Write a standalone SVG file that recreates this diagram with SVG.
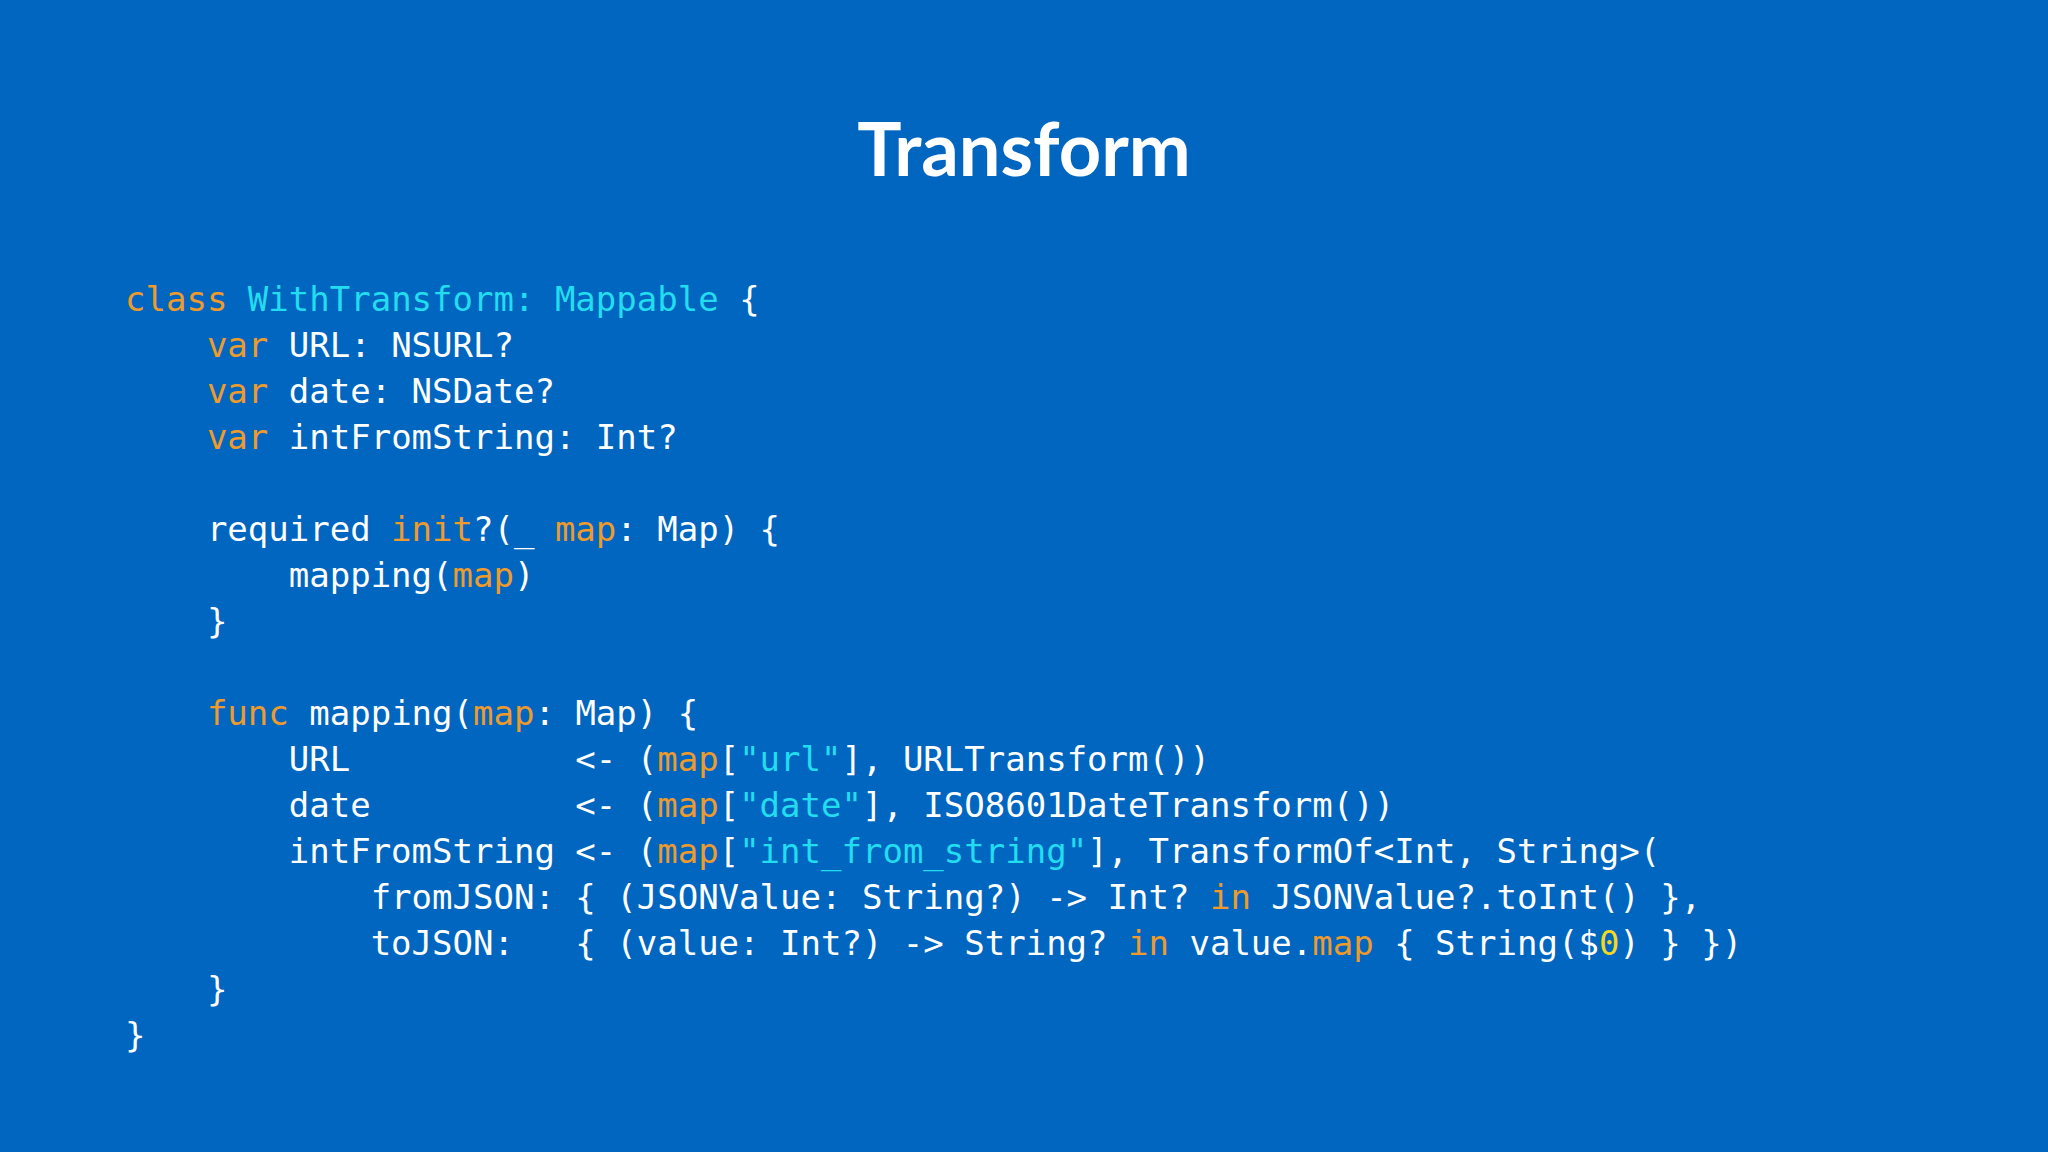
<svg xmlns="http://www.w3.org/2000/svg" width="2048" height="1152" viewBox="0 0 2048 1152">
<style>
.t{font-family:Lato,"Liberation Sans",sans-serif;font-weight:bold;font-size:74px;fill:#fff}
.c{font-family:"DejaVu Sans Mono","Liberation Mono",monospace;font-size:34px;fill:#fff;white-space:pre}
.k{fill:#EE9A2C}.s{fill:#22DDF0}.y{fill:#F5D81E}
</style>
<rect width="2048" height="1152" fill="#0066C0"/>
<text class="t" x="1024" y="176" text-anchor="middle">Transform</text>
<g id="code">
<text class="c" xml:space="preserve" x="125" y="311"><tspan class="k">class</tspan> <tspan class="s">WithTransform: Mappable</tspan> {</text>
<text class="c" xml:space="preserve" x="125" y="357">    <tspan class="k">var</tspan> URL: NSURL?</text>
<text class="c" xml:space="preserve" x="125" y="403">    <tspan class="k">var</tspan> date: NSDate?</text>
<text class="c" xml:space="preserve" x="125" y="449">    <tspan class="k">var</tspan> intFromString: Int?</text>
<text class="c" xml:space="preserve" x="125" y="541">    required <tspan class="k">init</tspan>?(_ <tspan class="k">map</tspan>: Map) {</text>
<text class="c" xml:space="preserve" x="125" y="587">        mapping(<tspan class="k">map</tspan>)</text>
<text class="c" xml:space="preserve" x="125" y="633">    }</text>
<text class="c" xml:space="preserve" x="125" y="725">    <tspan class="k">func</tspan> mapping(<tspan class="k">map</tspan>: Map) {</text>
<text class="c" xml:space="preserve" x="125" y="771">        URL           &lt;- (<tspan class="k">map</tspan>[<tspan class="s">"url"</tspan>], URLTransform())</text>
<text class="c" xml:space="preserve" x="125" y="817">        date          &lt;- (<tspan class="k">map</tspan>[<tspan class="s">"date"</tspan>], ISO8601DateTransform())</text>
<text class="c" xml:space="preserve" x="125" y="863">        intFromString &lt;- (<tspan class="k">map</tspan>[<tspan class="s">"int_from_string"</tspan>], TransformOf&lt;Int, String&gt;(</text>
<text class="c" xml:space="preserve" x="125" y="909">            fromJSON: { (JSONValue: String?) -&gt; Int? <tspan class="k">in</tspan> JSONValue?.toInt() },</text>
<text class="c" xml:space="preserve" x="125" y="955">            toJSON:   { (value: Int?) -&gt; String? <tspan class="k">in</tspan> value.<tspan class="k">map</tspan> { String($<tspan class="y">0</tspan>) } })</text>
<text class="c" xml:space="preserve" x="125" y="1001">    }</text>
<text class="c" xml:space="preserve" x="125" y="1047">}</text>
</g>
</svg>
